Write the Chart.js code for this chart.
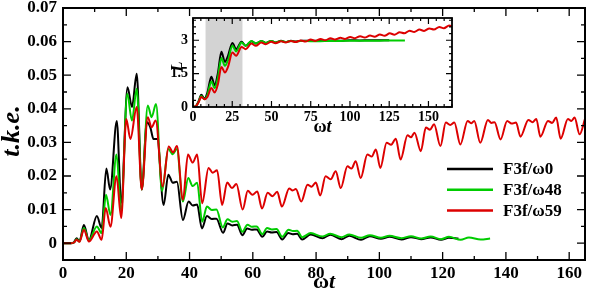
<!DOCTYPE html>
<html>
<head>
<meta charset="utf-8">
<script src="https://cdn.jsdelivr.net/npm/chart.js@4.4.0/dist/chart.umd.min.js"></script>
<style>
html, body { margin: 0; padding: 0; background: #fff; }
#wrap { position: relative; width: 598px; height: 296px; }
#main { position: absolute; left: 0; top: 0; }
#inset { position: absolute; left: 150px; top: 10px; }
</style>
</head>
<body>
<div id="wrap">
  <canvas id="main" width="598" height="296"></canvas>
  <canvas id="inset" width="315" height="130"></canvas>
</div>
<script>
// tick labels
var mainXTicks = [0, 20, 40, 60, 80, 100, 120, 140, 160];
var mainYTicks = [0, 0.01, 0.02, 0.03, 0.04, 0.05, 0.06, 0.07];
var insetXTicks = [0, 25, 50, 75, 100, 125, 150];
var insetYTicks = [0, 1.5, 3];
var seriesLabels = ['F3f/ω0', 'F3f/ω48', 'F3f/ω59'];
var shadeBand = [8, 31.5];

// main panel: t.k.e. vs ωt
var tkeT0 = [0, 2.5, 3.5, 4.3, 5.2, 6.6, 8.2, 10.7, 12.2, 13.7, 14.9, 17.0, 18.4, 20.4, 21.8, 23.3, 24.9, 26.5, 27.6, 28.6,
  29.8, 31.8, 33.3, 34.7, 36.0, 37.9, 39.7, 41.0, 42.4, 43.9, 45.5, 47.0, 48.5, 50.6, 52.0, 53.5, 55.0, 56.7, 58.2, 59.7,
  61.2, 63.0, 64.5, 66.0, 67.5, 69.3, 71.2, 72.6, 74.0, 75.6, 78.3, 82.0, 84.5, 88.0, 90.5, 94.2, 97.0, 100.5, 103.2, 107.0,
  110.0, 113.2, 116.2, 119.5, 122.0, 125.0];
var tkeV0 = [0, 0, 0.0003, 0.0015, 0.0006, 0.0054, 0.0009, 0.0081, 0.0045, 0.0222, 0.016, 0.0364, 0.012, 0.0464, 0.0405, 0.0504, 0.016, 0.036, 0.0345, 0.031,
  0.031, 0.0114, 0.0204, 0.018, 0.0183, 0.0069, 0.0124, 0.0112, 0.0115, 0.0044, 0.0081, 0.0072, 0.0073, 0.0031, 0.0059, 0.0053, 0.0055, 0.0024, 0.0044, 0.004,
  0.0041, 0.0019, 0.0035, 0.0032, 0.0033, 0.0011, 0.003, 0.0027, 0.0028, 0.0011, 0.0026, 0.0015, 0.0025, 0.0012, 0.0022, 0.0010, 0.0021, 0.0013, 0.0019, 0.0011,
  0.0018, 0.0012, 0.0017, 0.0010, 0.0016, 0.0014];

var tkeT48 = [0, 2.5, 3.5, 4.3, 5.2, 6.6, 8.2, 10.7, 12.2, 13.6, 15.0, 16.9, 18.4, 20.3, 21.8, 23.3, 24.9, 26.8, 28.0, 29.4,
  31.3, 33.3, 34.7, 36.0, 37.9, 39.6, 41.0, 42.4, 44.0, 45.5, 47.0, 48.5, 50.5, 52.0, 53.5, 55.0, 56.7, 58.3, 59.7, 61.2,
  63.0, 64.5, 66.0, 67.5, 69.3, 71.3, 72.7, 74.0, 75.6, 78.3, 82.0, 84.5, 88.0, 90.5, 94.2, 97.0, 100.5, 103.2, 107.0, 110.0,
  113.2, 116.2, 119.5, 122.0, 125.7, 128.3, 132.0, 135.0];
var tkeV48 = [0, 0, 0.0002, 0.0012, 0.0005, 0.0045, 0.0008, 0.005, 0.003, 0.0144, 0.0084, 0.0264, 0.0095, 0.0445, 0.0365, 0.046, 0.016, 0.041, 0.0375, 0.0414,
  0.0155, 0.028, 0.0265, 0.028, 0.0124, 0.0194, 0.017, 0.018, 0.0064, 0.0109, 0.0099, 0.0100, 0.0047, 0.0071, 0.0064, 0.0066, 0.0034, 0.0055, 0.0049, 0.005,
  0.0027, 0.0045, 0.0041, 0.0042, 0.0019, 0.004, 0.0036, 0.0037, 0.0018, 0.003, 0.002, 0.0028, 0.0018, 0.0026, 0.0016, 0.0024, 0.0016, 0.0022, 0.0015, 0.0021,
  0.0014, 0.002, 0.0012, 0.0019, 0.0010, 0.0017, 0.0011, 0.0014];

var tkeT59 = [0, 2.5, 3.5, 4.3, 5.2, 6.6, 8.2, 10.7, 12.2, 13.5, 15.0, 16.9, 18.4, 20.0, 21.3, 23.3, 24.9, 26.8, 28.0, 29.3,
  31.5, 33.4, 34.8, 36.0, 37.9, 39.5, 41.0, 42.4, 44.0, 46.0, 47.3, 48.7, 50.3, 51.9, 53.4, 54.8, 56.8, 58.4, 59.9, 61.4,
  62.9, 64.7, 66.2, 67.7, 69.2, 71.5, 72.6, 73.6, 75.3, 77.3, 78.6, 79.9, 81.3, 83.0, 84.6, 86.2, 87.8, 89.9, 91.2, 92.5,
  94.1, 96.2, 97.6, 98.9, 100.3, 102.3, 103.7, 105.2, 106.7, 108.9, 110.0, 111.1, 113.1, 114.7, 116.0, 117.3, 119.3, 121.0, 122.4, 123.7,
  125.6, 127.9, 129.0, 130.0, 131.9, 134.3, 135.4, 136.4, 138.3, 140.4, 141.8, 143.2, 144.6, 147.1, 148.4, 149.6, 150.9, 153.3, 154.6, 155.9,
  157.3, 159.6, 160.7, 161.7, 163.3, 165.0];
var tkeV59 = [0, 0, 0.0002, 0.001, 0.0004, 0.004, 0.0005, 0.0035, 0.001, 0.0105, 0.0049, 0.0199, 0.0075, 0.037, 0.031, 0.0405, 0.016, 0.0375, 0.0345, 0.0365,
  0.0169, 0.0288, 0.027, 0.0289, 0.0129, 0.0264, 0.024, 0.0264, 0.0119, 0.0224, 0.021, 0.0217, 0.0114, 0.0181, 0.0164, 0.0176, 0.0100, 0.0156, 0.0144, 0.0154,
  0.0103, 0.015, 0.014, 0.0153, 0.0109, 0.0163, 0.0157, 0.0161, 0.0124, 0.0174, 0.0168, 0.0181, 0.0142, 0.0199, 0.019, 0.0214, 0.0164, 0.0229, 0.0222, 0.0244,
  0.0194, 0.0264, 0.0258, 0.0279, 0.0224, 0.0299, 0.0293, 0.0311, 0.0249, 0.0321, 0.0315, 0.0329, 0.0274, 0.0344, 0.0338, 0.0354, 0.0289, 0.0359, 0.0352, 0.0359,
  0.0294, 0.0364, 0.0357, 0.0364, 0.0299, 0.0367, 0.0358, 0.036, 0.0309, 0.0364, 0.0356, 0.0359, 0.0317, 0.0367, 0.036, 0.037, 0.0317, 0.0364, 0.0358, 0.0374,
  0.0311, 0.037, 0.0364, 0.0374, 0.0324, 0.037];

// inset panel: L vs ωt
var lenT0 = [0, 2, 3.5, 5.3, 7.3, 9.2, 11.7, 13.8, 15.8, 18.1, 20.3, 22.3, 25.1, 27.5, 30.9, 33.6, 37.2, 40.0, 43.5, 46.3,
  49.8, 52.6, 56.1, 59, 62.4, 65.3, 68.7, 75, 81, 87, 94, 100, 106, 113, 119, 125];
var lenV0 = [0, 0.05, 0.25, 0.55, 0.38, 0.65, 1.36, 0.98, 1.5, 2.48, 2.03, 2.3, 2.88, 2.6, 2.93, 2.75, 2.96, 2.85, 2.97, 2.88,
  2.97, 2.9, 2.98, 2.92, 2.98, 2.94, 2.98, 2.98, 2.97, 2.99, 2.98, 3.0, 2.99, 3.0, 3.0, 3.0];

var lenT48 = [0, 2, 3.5, 5.3, 7.3, 9.2, 11.7, 13.8, 15.8, 18.1, 20.3, 22.3, 25.1, 27.5, 30.9, 33.6, 37.2, 40.0, 43.5, 46.3,
  49.8, 52.6, 56.1, 59, 62.4, 65.3, 68.7, 75, 81, 87, 94, 100, 106, 113, 119, 125, 135];
var lenV48 = [0, 0.05, 0.22, 0.5, 0.35, 0.55, 1.15, 0.85, 1.3, 2.2, 1.85, 2.1, 2.75, 2.5, 2.9, 2.75, 2.97, 2.85, 2.97, 2.88,
  2.97, 2.9, 2.97, 2.92, 2.97, 2.93, 2.97, 2.96, 2.96, 2.97, 2.97, 2.98, 2.98, 2.98, 2.98, 2.99, 2.99];

var lenT59 = [0, 2, 3.5, 5.3, 7.3, 9.2, 11.7, 13.8, 15.8, 18.1, 20.3, 22.3, 25.1, 27.5, 30.9, 33.6, 37.2, 40.0, 43.5, 46.3,
  49.8, 52.6, 56.1, 59, 62.4, 65.3, 68.7, 71.6, 75, 77.9, 81.3, 84.2, 87.6, 90.5, 93.9, 96.8, 100.2, 103.1, 106.5, 109.4,
  112.8, 115.7, 119.1, 122, 125.4, 128.3, 131.7, 134.6, 138, 140.9, 144.3, 147.2, 150.6, 153.5, 156.9, 159.8, 163.2, 165];
var lenV59 = [0, 0.05, 0.2, 0.45, 0.35, 0.45, 0.85, 0.65, 1.0, 1.8, 1.55, 1.8, 2.45, 2.3, 2.7, 2.6, 2.85, 2.75, 2.9, 2.82,
  2.93, 2.87, 2.95, 2.9, 2.97, 2.92, 2.99, 2.94, 3.03, 2.97, 3.06, 3.0, 3.09, 3.03, 3.11, 3.06, 3.15, 3.09, 3.18, 3.12,
  3.21, 3.16, 3.26, 3.2, 3.31, 3.25, 3.36, 3.31, 3.43, 3.37, 3.48, 3.42, 3.53, 3.48, 3.6, 3.54, 3.66, 3.63];

var colors = ['#000000', '#00cc00', '#dd0000'];
var FONT = "'Liberation Serif', Tinos, 'Times New Roman', Times, serif";

function pts(t, v) {
  return t.map(function (x, i) { return { x: x, y: v[i] }; });
}

function drawParts(ctx, parts, size, x, y, rot) {
  ctx.save();
  ctx.translate(x, y);
  ctx.rotate(rot || 0);
  ctx.fillStyle = '#000';
  ctx.textBaseline = 'middle';
  ctx.textAlign = 'left';
  var widths = parts.map(function (p) {
    ctx.font = p[1] + ' bold ' + size + 'px ' + FONT;
    return ctx.measureText(p[0]).width;
  });
  var cx = -widths.reduce(function (a, b) { return a + b; }, 0) / 2;
  parts.forEach(function (p, i) {
    ctx.font = p[1] + ' bold ' + size + 'px ' + FONT;
    ctx.fillText(p[0], cx, 0);
    cx += widths[i];
  });
  ctx.restore();
}

// box border with inward ticks on all four sides
function framePlugin(cfg) {
  return {
    id: 'frame',
    afterDatasetsDraw: function (chart) {
      var ctx = chart.ctx, a = chart.chartArea, sx = chart.scales.x, sy = chart.scales.y;
      ctx.save();
      ctx.strokeStyle = '#000';
      ctx.lineWidth = cfg.tickWidth;
      ctx.beginPath();
      for (var i = Math.ceil(sx.min / cfg.xMinor); i * cfg.xMinor <= sx.max + 1e-9; i++) {
        var v = i * cfg.xMinor;
        var len = Math.abs(v / cfg.xMajor - Math.round(v / cfg.xMajor)) < 1e-6 ? cfg.major : cfg.minor;
        var px = sx.getPixelForValue(v);
        ctx.moveTo(px, a.bottom); ctx.lineTo(px, a.bottom - len);
        ctx.moveTo(px, a.top); ctx.lineTo(px, a.top + len);
      }
      for (var j = Math.ceil(sy.min / cfg.yMinor - 1e-6); j * cfg.yMinor <= sy.max + 1e-9; j++) {
        var w = j * cfg.yMinor;
        var l2 = Math.abs(w / cfg.yMajor - Math.round(w / cfg.yMajor)) < 1e-6 ? cfg.major : cfg.minor;
        var py = sy.getPixelForValue(w);
        ctx.moveTo(a.left, py); ctx.lineTo(a.left + l2, py);
        ctx.moveTo(a.right, py); ctx.lineTo(a.right - l2, py);
      }
      ctx.stroke();
      ctx.lineWidth = cfg.borderWidth;
      ctx.strokeRect(a.left, a.top, a.right - a.left, a.bottom - a.top);
      ctx.restore();
    }
  };
}

// axis titles, placed relative to the plot area
function titlePlugin(items) {
  return {
    id: 'titles',
    afterDraw: function (chart) {
      var a = chart.chartArea;
      items.forEach(function (it) {
        var x = a.left + (a.right - a.left) * it.fx + it.dx;
        var y = a.top + (a.bottom - a.top) * it.fy + it.dy;
        drawParts(chart.ctx, it.parts, it.size, x, y, it.rot);
      });
    }
  };
}

var keyPlugin = {
  id: 'key',
  afterDraw: function (chart) {
    var ctx = chart.ctx, a = chart.chartArea;
    ctx.save();
    chart.data.datasets.forEach(function (ds, i) {
      var y = a.top + 161 + i * 20.8;
      ctx.strokeStyle = ds.borderColor;
      ctx.lineWidth = 2.5;
      ctx.beginPath();
      ctx.moveTo(a.right - 138, y);
      ctx.lineTo(a.right - 92, y);
      ctx.stroke();
      ctx.fillStyle = '#000';
      ctx.font = 'bold 17px ' + FONT;
      ctx.textBaseline = 'middle';
      ctx.textAlign = 'left';
      ctx.fillText(ds.label, a.right - 82, y + 1);
    });
    ctx.restore();
  }
};

var insetBack = {
  id: 'insetBack',
  beforeDatasetsDraw: function (chart) {
    var ctx = chart.ctx, a = chart.chartArea, sx = chart.scales.x;
    ctx.save();
    ctx.fillStyle = '#ffffff';
    ctx.fillRect(a.left, a.top, a.right - a.left, a.bottom - a.top);
    ctx.fillStyle = '#d3d3d3';
    var x1 = sx.getPixelForValue(shadeBand[0]), x2 = sx.getPixelForValue(shadeBand[1]);
    ctx.fillRect(x1, a.top, x2 - x1, a.bottom - a.top);
    ctx.restore();
  }
};

function makeScale(min, max, tickList, size, pad, fmt, thick) {
  return {
    type: 'linear', min: min, max: max,
    afterBuildTicks: function (s) { s.ticks = tickList.map(function (v) { return { value: v }; }); },
    afterFit: function (s) {
      if (s.isHorizontal()) { s.height = thick; } else { s.width = thick; }
      s.paddingTop = 0; s.paddingBottom = 0; s.paddingLeft = 0; s.paddingRight = 0;
    },
    grid: { display: false, drawTicks: false },
    border: { display: false },
    ticks: {
      autoSkip: false, maxRotation: 0, padding: pad, color: '#000',
      font: { family: FONT, size: size, weight: 'bold' },
      callback: fmt
    }
  };
}

function build() {
  new Chart(document.getElementById('main'), {
    type: 'line',
    data: {
      datasets: [
        { label: seriesLabels[0], data: pts(tkeT0, tkeV0), borderColor: colors[0], order: 3 },
        { label: seriesLabels[1], data: pts(tkeT48, tkeV48), borderColor: colors[1], order: 2 },
        { label: seriesLabels[2], data: pts(tkeT59, tkeV59), borderColor: colors[2], order: 1 }
      ]
    },
    options: {
      responsive: false, animation: false, devicePixelRatio: 1,
      layout: { padding: { top: 8, right: 13, left: 0, bottom: 0 } },
      elements: { point: { radius: 0 }, line: { borderWidth: 2, cubicInterpolationMode: 'monotone', fill: false } },
      scales: {
        x: makeScale(0, 165, mainXTicks, 17, 3, function (v) { return String(v); }, 36),
        y: makeScale(-0.005, 0.07, mainYTicks, 17, 6, function (v) { return v === 0 ? '0' : v.toFixed(2); }, 63)
      },
      plugins: { legend: { display: false }, tooltip: { enabled: false } }
    },
    plugins: [
      framePlugin({ xMinor: 10, xMajor: 20, yMinor: 0.005, yMajor: 0.01, major: 8, minor: 4, tickWidth: 1.3, borderWidth: 2 }),
      keyPlugin,
      titlePlugin([
        { parts: [['ω', 'normal'], ['t', 'italic']], size: 22, fx: 0.5, dx: 0, fy: 1, dy: 22, rot: 0 },
        { parts: [['t.k.e.', 'italic']], size: 26, fx: 0, dx: -51, fy: 0.5, dy: -3, rot: -Math.PI / 2 }
      ])
    ]
  });

  new Chart(document.getElementById('inset'), {
    type: 'line',
    data: {
      datasets: [
        { label: seriesLabels[0], data: pts(lenT0, lenV0), borderColor: colors[0], order: 3 },
        { label: seriesLabels[1], data: pts(lenT48, lenV48), borderColor: colors[1], order: 2 },
        { label: seriesLabels[2], data: pts(lenT59, lenV59), borderColor: colors[2], order: 1 }
      ]
    },
    options: {
      responsive: false, animation: false, devicePixelRatio: 1,
      layout: { padding: { top: 8, right: 13, left: 0, bottom: 0 } },
      elements: { point: { radius: 0 }, line: { borderWidth: 2, cubicInterpolationMode: 'monotone', fill: false } },
      scales: {
        x: makeScale(0, 165, insetXTicks, 14, 2, function (v) { return String(v); }, 33),
        y: makeScale(0, 4, insetYTicks, 14, 5, function (v) { return String(v); }, 43)
      },
      plugins: { legend: { display: false }, tooltip: { enabled: false } }
    },
    plugins: [
      insetBack,
      framePlugin({ xMinor: 5, xMajor: 25, yMinor: 0.3, yMajor: 1.5, major: 6, minor: 3, tickWidth: 1.2, borderWidth: 1.8 }),
      titlePlugin([
        { parts: [['ω', 'normal'], ['t', 'italic']], size: 18, fx: 0.5, dx: 0, fy: 1, dy: 20, rot: 0 },
        { parts: [['L', 'italic']], size: 17, fx: 0, dx: -15, fy: 0.5, dy: 4, rot: -Math.PI / 2 }
      ])
    ]
  });
}

if (document.fonts && document.fonts.load) {
  Promise.all([
    document.fonts.load("bold 17px 'Liberation Serif'"),
    document.fonts.load("italic bold 17px 'Liberation Serif'")
  ]).then(build, build);
} else {
  build();
}
</script>
</body>
</html>
